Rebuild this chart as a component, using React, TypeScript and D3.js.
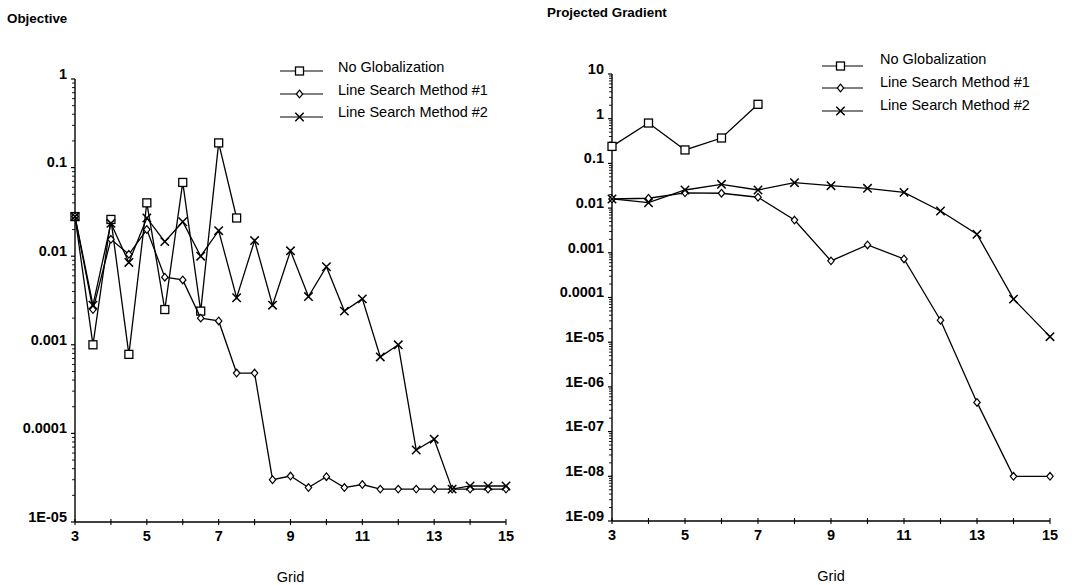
import React from "react";
import * as d3 from "d3";

// ---------- data ----------
const gridLeft = [3, 3.5, 4, 4.5, 5, 5.5, 6, 6.5, 7, 7.5, 8, 8.5, 9, 9.5, 10, 10.5, 11, 11.5, 12, 12.5, 13, 13.5, 14, 14.5, 15];
const objNoGlob = [0.028, 0.001, 0.026, 0.00078, 0.04, 0.0025, 0.068, 0.0024, 0.19, 0.027];
const objLS1 = [0.028, 0.0025, 0.0155, 0.0105, 0.02, 0.0058, 0.0054, 0.002, 0.00186, 0.00048, 0.00048, 3.0e-5, 3.3e-5, 2.45e-5, 3.25e-5, 2.45e-5, 2.65e-5, 2.35e-5, 2.35e-5, 2.35e-5, 2.35e-5, 2.35e-5, 2.35e-5, 2.35e-5, 2.35e-5];
const objLS2 = [0.028, 0.0028, 0.0235, 0.0085, 0.027, 0.0146, 0.0245, 0.01, 0.0194, 0.0034, 0.015, 0.0028, 0.0115, 0.0035, 0.0076, 0.0024, 0.0033, 0.00073, 0.001, 6.5e-5, 8.6e-5, 2.35e-5, 2.55e-5, 2.55e-5, 2.55e-5];

const gridRight = [3, 4, 5, 6, 7, 8, 9, 10, 11, 12, 13, 14, 15];
const pgNoGlob = [0.24, 0.8, 0.2, 0.37, 2.1];
const pgLS1 = [0.016, 0.0166, 0.022, 0.0215, 0.0175, 0.0054, 0.00066, 0.0015, 0.00073, 3.1e-5, 4.5e-7, 1e-8, 1e-8];
const pgLS2 = [0.016, 0.0132, 0.0254, 0.034, 0.0254, 0.037, 0.0317, 0.0277, 0.0225, 0.0086, 0.0026, 9.2e-5, 1.33e-5];

const seriesNames = ["No Globalization", "Line Search Method #1", "Line Search Method #2"];
const xTickLabels = [3, 5, 7, 9, 11, 13, 15];
const leftYTicks = [1, 0.1, 0.01, 0.001, 0.0001, 1e-5];
const leftYLabels = ["1", "0.1", "0.01", "0.001", "0.0001", "1E-05"];
const rightYTicks = [10, 1, 0.1, 0.01, 0.001, 0.0001, 1e-5, 1e-6, 1e-7, 1e-8, 1e-9];
const rightYLabels = ["10", "1", "0.1", "0.01", "0.001", "0.0001", "1E-05", "1E-06", "1E-07", "1E-08", "1E-09"];

const FONT = "'Liberation Sans', Arial, Helvetica, sans-serif";

type MarkerKind = "square" | "diamond" | "cross";
const markerKinds: MarkerKind[] = ["square", "diamond", "cross"];

function Marker({ kind, x, y }: { kind: MarkerKind; x: number; y: number }) {
  if (kind === "square") {
    return <rect x={x - 4} y={y - 4} width={8} height={8} fill="#fff" stroke="#000" strokeWidth={1.3} />;
  }
  if (kind === "diamond") {
    return (
      <path
        d={`M${x},${y - 3.8}L${x + 3.2},${y}L${x},${y + 3.8}L${x - 3.2},${y}Z`}
        fill="#fff"
        stroke="#000"
        strokeWidth={1.2}
      />
    );
  }
  return (
    <path
      d={`M${x - 4.2},${y - 4.2}L${x + 4.2},${y + 4.2}M${x - 4.2},${y + 4.2}L${x + 4.2},${y - 4.2}`}
      stroke="#000"
      strokeWidth={1.5}
      fill="none"
    />
  );
}

type PanelProps = {
  title: string;
  titleX: number;
  titleY: number;
  x0: number;
  x1: number;
  yTop: number;
  yBot: number;
  domain: [number, number];
  grid: number[];
  series: number[][];
  yTicks: number[];
  yLabels: string[];
  legendLineX0: number;
  legendLineX1: number;
  legendTextX: number;
  legendLineY: number[];
  legendTextY: number[];
  gridLabelY: number;
};

function Panel(p: PanelProps) {
  const xs = d3.scaleLinear().domain([3, 15]).range([p.x0, p.x1]);
  const ys = d3.scaleLog().domain(p.domain).range([p.yBot, p.yTop]);
  const lineGen = d3
    .line<[number, number]>()
    .x((d) => xs(d[0]))
    .y((d) => ys(d[1]));

  const minor: number[] = [];
  const lo = Math.round(Math.log10(p.domain[0]));
  const hi = Math.round(Math.log10(p.domain[1]));
  for (let e = lo; e < hi; e++) {
    for (let m = 2; m <= 9; m++) minor.push(m * Math.pow(10, e));
  }
  const intTicks = d3.range(3, 16);

  return (
    <g>
      <text x={p.titleX} y={p.titleY} fontFamily={FONT} fontSize={13.4} fontWeight="bold" dominantBaseline="middle">
        {p.title}
      </text>
      <line x1={p.x0} x2={p.x0} y1={p.yTop} y2={p.yBot} stroke="#000" strokeWidth={1.4} />
      <line x1={p.x0} x2={p.x1} y1={p.yBot} y2={p.yBot} stroke="#000" strokeWidth={1.4} />
      {minor.map((v, i) => (
        <line key={"m" + i} x1={p.x0 - 3} x2={p.x0} y1={ys(v)} y2={ys(v)} stroke="#000" strokeWidth={0.9} />
      ))}
      {p.yTicks.map((v, i) => (
        <g key={"yt" + i}>
          <line x1={p.x0 - 4} x2={p.x0} y1={ys(v)} y2={ys(v)} stroke="#000" strokeWidth={1.2} />
          <text
            x={p.x0 - 8}
            y={ys(v) - 4}
            textAnchor="end"
            dominantBaseline="middle"
            fontFamily={FONT}
            fontSize={14.5}
            fontWeight="bold"
          >
            {p.yLabels[i]}
          </text>
        </g>
      ))}
      {intTicks.map((v) => (
        <line key={"xt" + v} x1={xs(v)} x2={xs(v)} y1={p.yBot - 3} y2={p.yBot + 3} stroke="#000" strokeWidth={1.1} />
      ))}
      {xTickLabels.map((v) => (
        <text
          key={"xl" + v}
          x={xs(v)}
          y={p.yBot + 15}
          textAnchor="middle"
          dominantBaseline="middle"
          fontFamily={FONT}
          fontSize={14.5}
          fontWeight="bold"
        >
          {v}
        </text>
      ))}
      <text
        x={(p.x0 + p.x1) / 2}
        y={p.gridLabelY}
        textAnchor="middle"
        dominantBaseline="middle"
        fontFamily={FONT}
        fontSize={14.5}
      >
        Grid
      </text>
      {p.series.map((vals, si) => {
        const pts: [number, number][] = vals.map((v, i) => [p.grid[i], v]);
        return (
          <g key={"s" + si}>
            <path d={lineGen(pts) || ""} fill="none" stroke="#000" strokeWidth={1.3} />
            {pts.map((d, i) => (
              <Marker key={i} kind={markerKinds[si]} x={xs(d[0])} y={ys(d[1])} />
            ))}
          </g>
        );
      })}
      {seriesNames.map((name, i) => {
        const mx = (p.legendLineX0 + p.legendLineX1) / 2 - 2;
        return (
          <g key={"lg" + i}>
            <line
              x1={p.legendLineX0}
              x2={p.legendLineX1}
              y1={p.legendLineY[i]}
              y2={p.legendLineY[i]}
              stroke="#000"
              strokeWidth={1}
            />
            <Marker kind={markerKinds[i]} x={mx} y={p.legendLineY[i]} />
            <text
              x={p.legendTextX}
              y={p.legendTextY[i]}
              dominantBaseline="middle"
              fontFamily={FONT}
              fontSize={14.5}
            >
              {name}
            </text>
          </g>
        );
      })}
    </g>
  );
}

export default function App() {
  return (
    <svg
      width={1091}
      height={585}
      style={{ position: "absolute", left: 0, top: 0, background: "#fff" }}
    >
      <rect width={1091} height={585} fill="#fff" />
      <Panel
        title="Objective"
        titleX={7}
        titleY={19}
        x0={75}
        x1={506}
        yTop={79}
        yBot={522}
        domain={[1e-5, 1]}
        grid={gridLeft}
        series={[objNoGlob, objLS1, objLS2]}
        yTicks={leftYTicks}
        yLabels={leftYLabels}
        legendLineX0={280}
        legendLineX1={323}
        legendTextX={338}
        legendLineY={[71, 94, 117]}
        legendTextY={[68, 91.5, 113.5]}
        gridLabelY={578}
      />
      <Panel
        title="Projected Gradient"
        titleX={547}
        titleY={13}
        x0={612}
        x1={1050}
        yTop={74}
        yBot={521}
        domain={[1e-9, 10]}
        grid={gridRight}
        series={[pgNoGlob, pgLS1, pgLS2]}
        yTicks={rightYTicks}
        yLabels={rightYLabels}
        legendLineX0={822}
        legendLineX1={863}
        legendTextX={880}
        legendLineY={[66, 88, 111]}
        legendTextY={[60, 83, 106]}
        gridLabelY={577}
      />
    </svg>
  );
}
